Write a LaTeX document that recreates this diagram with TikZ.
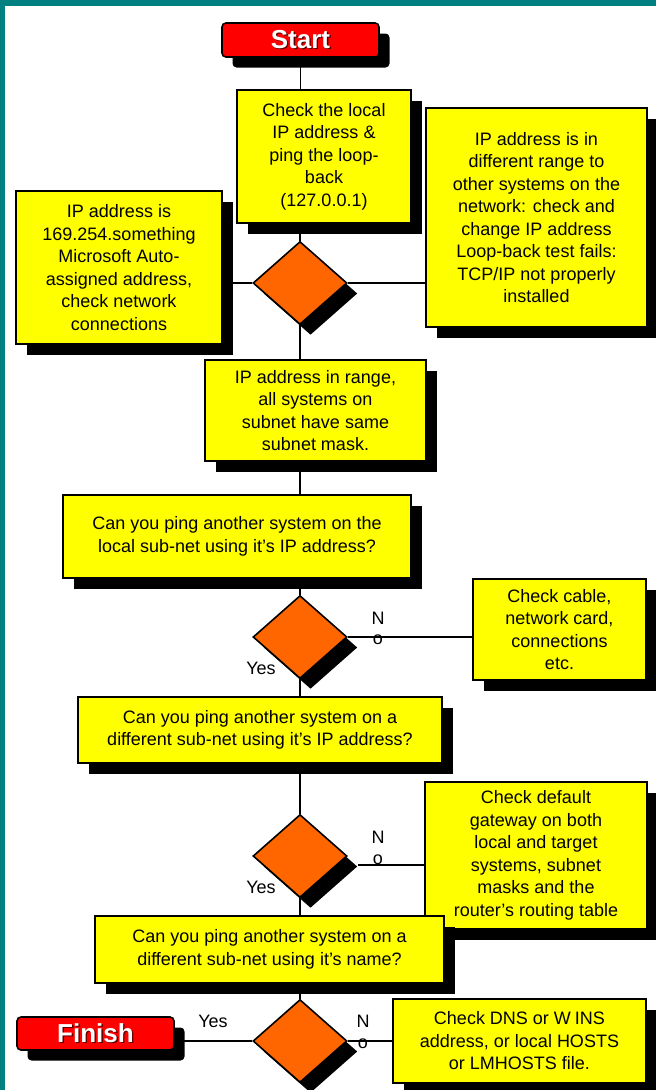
\documentclass[tikz,border=0pt]{standalone}
\usepackage{fontspec}
\setmainfont{Liberation Sans}
\usetikzlibrary{shapes.geometric,shadows,backgrounds}
\definecolor{frameteal}{RGB}{0,128,128}
\definecolor{boxyellow}{RGB}{255,255,0}
\definecolor{diaorange}{RGB}{255,102,0}
\definecolor{termred}{RGB}{255,0,0}
\definecolor{txtshadow}{RGB}{90,0,0}
\newcommand{\shtext}[1]{\rlap{\kern1.3pt\raisebox{-1.3pt}{\color{txtshadow}#1}}#1}
\tikzset{
  shad/.style={drop shadow={shadow xshift=10.5pt,shadow yshift=-10.5pt,fill=black,opacity=1}},
  ybox/.style={draw=black,line width=1.6pt,fill=boxyellow,shad,inner sep=0pt,align=center,
    font=\fontsize{18}{22.5}\selectfont},
  dia/.style={diamond,draw=black,line width=1.6pt,fill=diaorange,shad,inner sep=0pt,
    minimum width=94pt,minimum height=83pt},
  term/.style={draw=black,line width=1.6pt,fill=termred,shad,rounded corners=4pt,inner sep=0pt,
    text=white,font=\fontsize{26}{30}\selectfont\bfseries},
  conn/.style={draw=black,line width=1.5pt},
  lbl/.style={font=\fontsize{18}{22}\selectfont,inner sep=0pt}
}
\begin{document}
\begin{tikzpicture}[x=1pt,y=-1pt]
\useasboundingbox (0,0) rectangle (656,1090);

% labels (drawn before diamonds so the shadows may cover them)
\node[lbl] (n2) at (378,618) {N};
\node[lbl] (o2) at (378,640) {o};
\node[lbl] (y2) at (261,668) {Yes};
\node[lbl] (n3) at (378,837) {N};
\node[lbl] (o3) at (378,860) {o};
\node[lbl] (y3) at (261,887) {Yes};
\node[lbl] (y4) at (213,1021) {Yes};
\node[lbl] (n4) at (363,1021) {N};
\node[lbl] (o4) at (363,1044) {o};

\node[term,minimum width=157pt,minimum height=34pt] (start) at (300.5,40) {\shtext{Start}};
\node[ybox,minimum width=174pt,minimum height=133pt] (b1) at (324,156.5)
  {Check the local\\IP address \&\\ping the loop-\\back\\(127.0.0.1)};
\node[ybox,minimum width=221pt,minimum height=219pt] (b2) at (536.5,217.5)
  {IP address is in\\different range to\\other systems on the\\network: check and\\change IP address\\Loop-back test fails:\\TCP/IP not properly\\installed};
\node[ybox,minimum width=206pt,minimum height=153pt] (b3) at (119,267.5)
  {IP address is\\169.254.something\\Microsoft Auto-\\assigned address,\\check network\\connections};
\node[dia] (d1) at (300,283) {};
\node[ybox,minimum width=221pt,minimum height=101pt] (b4) at (315.5,410.5)
  {IP address in range,\\all systems on\\subnet have same\\subnet mask.};
\node[ybox,minimum width=348pt,minimum height=83pt] (b5) at (237,536.5)
  {Can you ping another system on the\\local sub-net using it’s IP address?};
\node[dia] (d2) at (300,637) {};
\node[ybox,minimum width=173pt,minimum height=101pt] (b6) at (559.5,629.5)
  {Check cable,\\network card,\\connections\\etc.};
\node[ybox,minimum width=364pt,minimum height=66pt] (b7) at (260,730)
  {Can you ping another system on a\\different sub-net using it’s IP address?};
\node[dia] (d3) at (300,856) {};
\node[ybox,minimum width=222pt,minimum height=147pt] (b8) at (536,855.5)
  {Check default\\gateway on both\\local and target\\systems, subnet\\masks and the\\router’s routing table};
\node[ybox,minimum width=349pt,minimum height=67pt] (b9) at (269.5,949.5)
  {Can you ping another system on a\\different sub-net using it’s name?};
\node[dia] (d4) at (300,1041) {};
\node[term,minimum width=157pt,minimum height=33pt] (fin) at (95.5,1033.5) {\shtext{Finish}};
\node[ybox,minimum width=253pt,minimum height=84pt] (b10) at (519.5,1041)
  {Check DNS or W\kern4pt INS\\address, or local HOSTS\\or LMHOSTS file.};
\coordinate (d3s) at ([shift={(10,9)}]d3.east);

\begin{pgfonlayer}{background}
\fill[frameteal] (0,0) rectangle (656,1090);
\fill[white] (5,6) rectangle (656,1090);
\draw[conn] (start.south) -- (start.south |- b1.north);
\draw[conn] (b1.south -| d1.north) -- (d1.north);
\draw[conn] (b3.east |- d1.west) -- (d1.west);
\draw[conn] (d1.east) -- (d1.east -| b2.west);
\draw[conn] (d1.south) -- (d1.south |- b4.north);
\draw[conn] (b4.south -| d2.north) -- (b5.north -| d2.north);
\draw[conn] (b5.south -| d2.north) -- (d2.north);
\draw[conn] (d2.east) -- (d2.east -| b6.west);
\draw[conn] (d2.south) -- (d2.south |- b7.north);
\draw[conn] (b7.south -| d3.north) -- (d3.north);
\draw[conn] (d3s) -- (d3s -| b8.west);
\draw[conn] (d3.south) -- (d3.south |- b9.north);
\draw[conn] (b9.south -| d4.north) -- (d4.north);
\draw[conn] (fin.east |- d4.west) -- (d4.west);
\draw[conn] (d4.east) -- (d4.east -| b10.west);
\end{pgfonlayer}
\end{tikzpicture}
\end{document}
